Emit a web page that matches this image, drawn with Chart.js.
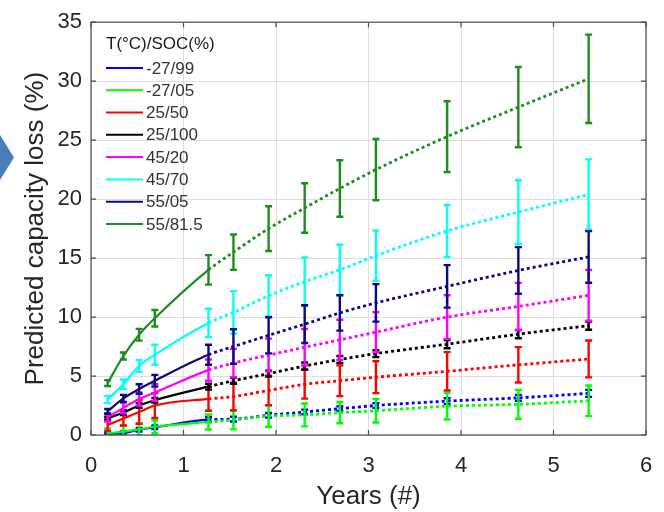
<!DOCTYPE html>
<html>
<head>
<meta charset="utf-8">
<script src="https://cdn.jsdelivr.net/npm/chart.js@4.4.0/dist/chart.umd.min.js"></script>
<style>
body{margin:0;background:#fff}
#wrap{position:relative;width:664px;height:512px}
#wrap canvas{position:absolute;left:0;top:0}
#arrow{position:absolute;left:0;top:135px;width:14px;height:45px;background:#4a7ebb;clip-path:polygon(0 0,100% 50%,0 100%)}
</style>
</head>
<body>
<div id="wrap">
  <canvas id="myChart" width="664" height="512"></canvas>
  <div id="arrow"></div>
</div>
<script>
const years = [0.18, 0.35, 0.52, 0.69, 1.27, 1.54, 1.92, 2.31, 2.69, 3.08, 3.85, 4.62, 5.38]
const labels = ['-27/99', '-27/05', '25/50', '25/100', '45/20', '45/70', '55/05', '55/81.5']
const colors = ['#0000ff', '#00ff00', '#ff0000', '#000000', '#ff00ff', '#00ffff', '#0a0a80', '#1e8c1e']
const legendTitle = 'T(°C)/SOC(%)'

const loss_m27_99 = [0.1, 0.15, 0.45, 0.65, 1.3, 1.35, 1.67, 1.95, 2.23, 2.5, 2.87, 3.15, 3.53]
const loss_m27_05 = [0.15, 0.28, 0.47, 0.7, 1.1, 1.28, 1.6, 1.7, 1.9, 2.06, 2.44, 2.6, 2.9]
const loss_25_50 = [0.85, 1.4, 1.95, 2.5, 3.06, 3.26, 3.78, 4.3, 4.6, 4.9, 5.4, 5.95, 6.45]
const loss_25_100 = [1.4, 1.9, 2.5, 2.95, 4.1, 4.6, 5.2, 5.85, 6.4, 6.9, 7.7, 8.55, 9.27]
const loss_45_20 = [1.5, 2.3, 3.05, 3.6, 5.5, 6.1, 6.77, 7.44, 8.07, 8.72, 10.0, 10.9, 11.84]
const loss_45_70 = [3.0, 4.3, 5.85, 6.8, 9.5, 10.4, 11.8, 13.0, 14.0, 15.2, 17.3, 18.9, 20.4]
const loss_55_05 = [2.0, 3.1, 3.9, 4.6, 6.8, 7.5, 8.45, 9.4, 10.35, 11.2, 12.6, 13.95, 15.1]
const loss_55_815 = [4.4, 6.7, 8.5, 9.9, 14.0, 15.5, 17.5, 19.25, 20.9, 22.5, 25.3, 27.8, 30.2]

const err_m27_99 = [0.1, 0.15, 0.15, 0.15, 0.2, 0.2, 0.2, 0.2, 0.2, 0.2, 0.25, 0.25, 0.3]
const err_m27_05 = [0.4, 0.5, 0.5, 0.55, 0.64, 0.8, 0.9, 0.97, 0.9, 1.0, 1.13, 1.22, 1.3]
const err_25_50 = [0.5, 0.6, 1.0, 1.05, 1.0, 1.17, 1.25, 1.22, 1.3, 1.35, 1.63, 1.5, 1.56]
const err_25_100 = [0.15, 0.2, 0.2, 0.2, 0.25, 0.25, 0.25, 0.3, 0.3, 0.3, 0.35, 0.35, 0.35]
const err_45_20 = [0.35, 0.45, 0.55, 0.7, 0.9, 1.2, 1.4, 1.55, 1.7, 1.7, 1.85, 2.0, 2.15]
const err_45_70 = [0.3, 0.4, 0.5, 0.85, 1.2, 1.8, 1.75, 2.06, 2.13, 2.13, 2.2, 2.7, 2.97]
const err_55_05 = [0.2, 0.3, 0.4, 0.5, 0.85, 1.46, 1.53, 1.6, 1.5, 1.59, 1.8, 1.98, 2.19]
const err_55_815 = [0.25, 0.3, 0.5, 0.7, 1.25, 1.5, 1.9, 2.1, 2.4, 2.6, 3.0, 3.4, 3.75]

const series = [loss_m27_99, loss_m27_05, loss_25_50, loss_25_100, loss_45_20, loss_45_70, loss_55_05, loss_55_815]
const errors = [err_m27_99, err_m27_05, err_25_50, err_25_100, err_45_20, err_45_70, err_55_05, err_55_815]

const xTicks = [0, 1, 2, 3, 4, 5, 6]
const yTicks = [0, 5, 10, 15, 20, 25, 30, 35]
const measuredUntil = 4 // last index of the solid part

Chart.defaults.font.family = '"Liberation Sans", Arial, sans-serif'
Chart.defaults.color = '#262626'

const datasets = series.map((vals, i) => ({
    label: labels[i],
    data: vals.map((v, j) => ({x: years[j], y: v})),
    errs: errors[i],
    borderColor: colors[i],
    backgroundColor: colors[i],
    borderWidth: 2.2,
    pointRadius: 0,
    cubicInterpolationMode: 'monotone',
    order: series.length - i,
    segment: {
        borderDash: ctx => ctx.p0DataIndex >= measuredUntil ? [3, 3] : undefined,
        borderWidth: ctx => ctx.p0DataIndex >= measuredUntil ? 2.8 : 2.2
    }
}))

const errorBars = {
    id: 'errorBars',
    afterDatasetDraw(chart, args) {
        const ctx = chart.ctx
        const ds = chart.data.datasets[args.index]
        const y = chart.scales.y
        const a = chart.chartArea
        ctx.save()
        ctx.beginPath()
        ctx.rect(a.left, a.top, a.right - a.left, a.bottom - a.top)
        ctx.clip()
        ctx.strokeStyle = ds.borderColor
        ctx.lineWidth = 2.4
        args.meta.data.forEach((pt, j) => {
            const v = ds.data[j].y
            const top = y.getPixelForValue(v + ds.errs[j])
            const bot = y.getPixelForValue(v - ds.errs[j])
            ctx.beginPath()
            ctx.moveTo(pt.x, top)
            ctx.lineTo(pt.x, bot)
            ctx.moveTo(pt.x - 3.5, top)
            ctx.lineTo(pt.x + 3.5, top)
            ctx.moveTo(pt.x - 3.5, bot)
            ctx.lineTo(pt.x + 3.5, bot)
            ctx.stroke()
        })
        ctx.restore()
    }
}

const boxAndLegend = {
    id: 'boxAndLegend',
    afterDraw(chart) {
        const ctx = chart.ctx
        const a = chart.chartArea
        const xs = chart.scales.x
        const ys = chart.scales.y
        ctx.save()
        ctx.strokeStyle = '#4d4d4d'
        ctx.lineWidth = 1.2
        ctx.strokeRect(a.left, a.top, a.right - a.left, a.bottom - a.top)
        ctx.beginPath()
        xTicks.forEach(t => {
            const px = xs.getPixelForValue(t)
            ctx.moveTo(px, a.bottom); ctx.lineTo(px, a.bottom - 5)
            ctx.moveTo(px, a.top); ctx.lineTo(px, a.top + 5)
        })
        yTicks.forEach(t => {
            const py = ys.getPixelForValue(t)
            ctx.moveTo(a.left, py); ctx.lineTo(a.left + 5, py)
            ctx.moveTo(a.right, py); ctx.lineTo(a.right - 5, py)
        })
        ctx.stroke()

        // legend
        const x0 = a.left + 15
        ctx.font = '17px "Liberation Sans", Arial, sans-serif'
        ctx.textBaseline = 'middle'
        ctx.fillStyle = '#1a1a1a'
        ctx.fillText(legendTitle, x0, a.top + 22)
        chart.data.datasets.forEach((ds, i) => {
            const ly = a.top + 45.7 + i * 22.3
            ctx.strokeStyle = ds.borderColor
            ctx.lineWidth = 2
            ctx.beginPath()
            ctx.moveTo(x0, ly)
            ctx.lineTo(x0 + 37, ly)
            ctx.stroke()
            ctx.fillStyle = '#333'
            ctx.fillText(ds.label, x0 + 40, ly + 1)
        })
        ctx.restore()
    }
}

const config = {
    type: 'line',
    data: {datasets: datasets},
    options: {
        responsive: false,
        animation: false,
        layout: {padding: {left: 0, right: 18, top: 16, bottom: 0}},
        plugins: {legend: {display: false}, tooltip: {enabled: false}},
        scales: {
            x: {
                type: 'linear',
                min: 0,
                max: 6,
                afterFit: s => { s.height = 77; s.paddingLeft = 0; s.paddingRight = 0 },
                afterBuildTicks: s => { s.ticks = xTicks.map(v => ({value: v})) },
                grid: {color: '#dedede', drawTicks: false},
                border: {display: false},
                ticks: {font: {size: 22}, color: '#262626', padding: 18, maxRotation: 0},
                title: {display: true, text: 'Years (#)', font: {size: 26}, color: '#262626', padding: {top: 0, bottom: 0}}
            },
            y: {
                min: 0,
                max: 35,
                afterFit: s => { s.width = 91 },
                afterBuildTicks: s => { s.ticks = yTicks.map(v => ({value: v})) },
                grid: {color: '#dedede', drawTicks: false},
                border: {display: false},
                ticks: {font: {size: 22}, color: '#262626', padding: 9},
                title: {display: true, text: 'Predicted capacity loss (%)', font: {size: 26}, color: '#262626', padding: {top: 20, bottom: 0}}
            }
        }
    },
    plugins: [errorBars, boxAndLegend]
}

const myChart = new Chart(document.getElementById('myChart'), config)
</script>
</body>
</html>
